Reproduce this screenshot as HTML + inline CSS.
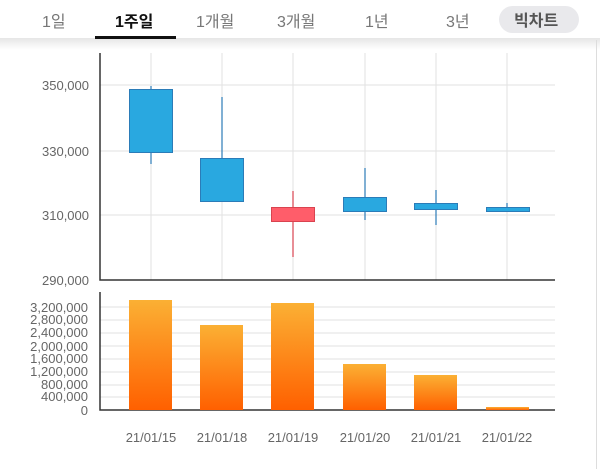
<!DOCTYPE html>
<html><head><meta charset="utf-8"><style>
body{margin:0;width:600px;height:469px;background:#fff;overflow:hidden;font-family:"Liberation Sans","Noto Sans CJK KR",sans-serif;}
.tab{position:absolute;top:8px;font-size:16px;color:#777;}
</style></head><body>
<div style="position:absolute;left:0;top:38px;width:600px;height:12px;background:linear-gradient(#e6e6e6,#fff);"></div>
<div class="tab" style="left:42px">1일</div>
<div class="tab" style="left:115px;color:#111;font-weight:bold">1주일</div>
<div style="position:absolute;left:95px;top:36px;width:81px;height:3px;background:#111"></div>
<div class="tab" style="left:196px">1개월</div>
<div class="tab" style="left:277px">3개월</div>
<div class="tab" style="left:365px">1년</div>
<div class="tab" style="left:446px">3년</div>
<div style="position:absolute;left:499px;top:6px;width:80px;height:27px;border-radius:14px;background:#e9e9ec;"></div>
<div class="tab" style="left:514px;top:7px;color:#555;font-weight:bold">빅차트</div>
<div style="position:absolute;left:596px;top:40px;width:1px;height:429px;background:#ddd"></div>
<svg width="600" height="469" style="position:absolute;left:0;top:0" font-family="Liberation Sans, sans-serif">
<g stroke="#e2e2e2" stroke-width="1">
<line x1="151" y1="53" x2="151" y2="280"/><line x1="222" y1="53" x2="222" y2="280"/><line x1="293" y1="53" x2="293" y2="280"/><line x1="365" y1="53" x2="365" y2="280"/><line x1="436" y1="53" x2="436" y2="280"/><line x1="507" y1="53" x2="507" y2="280"/>
<line x1="100" y1="85" x2="555" y2="85"/><line x1="100" y1="151" x2="555" y2="151"/><line x1="100" y1="215" x2="555" y2="215"/>
<line x1="100" y1="410" x2="555" y2="410"/><line x1="100" y1="397" x2="555" y2="397"/><line x1="100" y1="385" x2="555" y2="385"/><line x1="100" y1="372" x2="555" y2="372"/><line x1="100" y1="359" x2="555" y2="359"/><line x1="100" y1="346" x2="555" y2="346"/><line x1="100" y1="333" x2="555" y2="333"/><line x1="100" y1="320" x2="555" y2="320"/><line x1="100" y1="307" x2="555" y2="307"/>
</g>
<g stroke="#333" stroke-width="1.5" fill="none">
<polyline points="100,53 100,280 555,280"/>
<polyline points="100,292 100,410 555,410"/>
</g>
<g font-size="13" fill="#666" text-anchor="end">
<text x="89" y="90">350,000</text><text x="89" y="156">330,000</text><text x="89" y="220">310,000</text><text x="89" y="285">290,000</text>
<text x="88" y="312">3,200,000</text><text x="88" y="324">2,800,000</text><text x="88" y="337">2,400,000</text><text x="88" y="351">2,000,000</text><text x="88" y="363">1,600,000</text><text x="88" y="376">1,200,000</text><text x="88" y="389">800,000</text><text x="88" y="401">400,000</text><text x="88" y="415">0</text>
</g>
<g stroke="#2b7cb8" stroke-width="1.2">
<line x1="151" y1="86" x2="151" y2="164"/><line x1="222" y1="97" x2="222" y2="202"/><line x1="365" y1="168" x2="365" y2="220"/><line x1="436" y1="190" x2="436" y2="225"/><line x1="507" y1="203" x2="507" y2="212"/>
</g>
<line x1="293" y1="191" x2="293" y2="257" stroke="#d9434f" stroke-width="1.2"/>
<g fill="#29a8e0" stroke="#2b7cb8" stroke-width="1">
<rect x="129.5" y="89.5" width="43" height="63"/><rect x="200.5" y="158.5" width="43" height="43"/><rect x="343.5" y="197.5" width="43" height="14"/><rect x="414.5" y="203.5" width="43" height="6"/><rect x="486.5" y="207.5" width="43" height="4"/>
</g>
<rect x="271.5" y="207.5" width="43" height="14" fill="#ff5d6a" stroke="#d9434f"/>
<defs><linearGradient id="g" x1="0" y1="0" x2="0" y2="1"><stop offset="0" stop-color="#fbb034"/><stop offset="1" stop-color="#ff6000"/></linearGradient></defs>
<g fill="url(#g)">
<rect x="129" y="300" width="43" height="110"/><rect x="200" y="325" width="43" height="85"/><rect x="271" y="303" width="43" height="107"/><rect x="343" y="364" width="43" height="46"/><rect x="414" y="375" width="43" height="35"/><rect x="486" y="407" width="43" height="3"/>
</g>
<g font-size="13" fill="#666" text-anchor="middle">
<text x="151" y="442">21/01/15</text><text x="222" y="442">21/01/18</text><text x="293" y="442">21/01/19</text><text x="365" y="442">21/01/20</text><text x="436" y="442">21/01/21</text><text x="507" y="442">21/01/22</text>
</g>
</svg>
</body></html>
